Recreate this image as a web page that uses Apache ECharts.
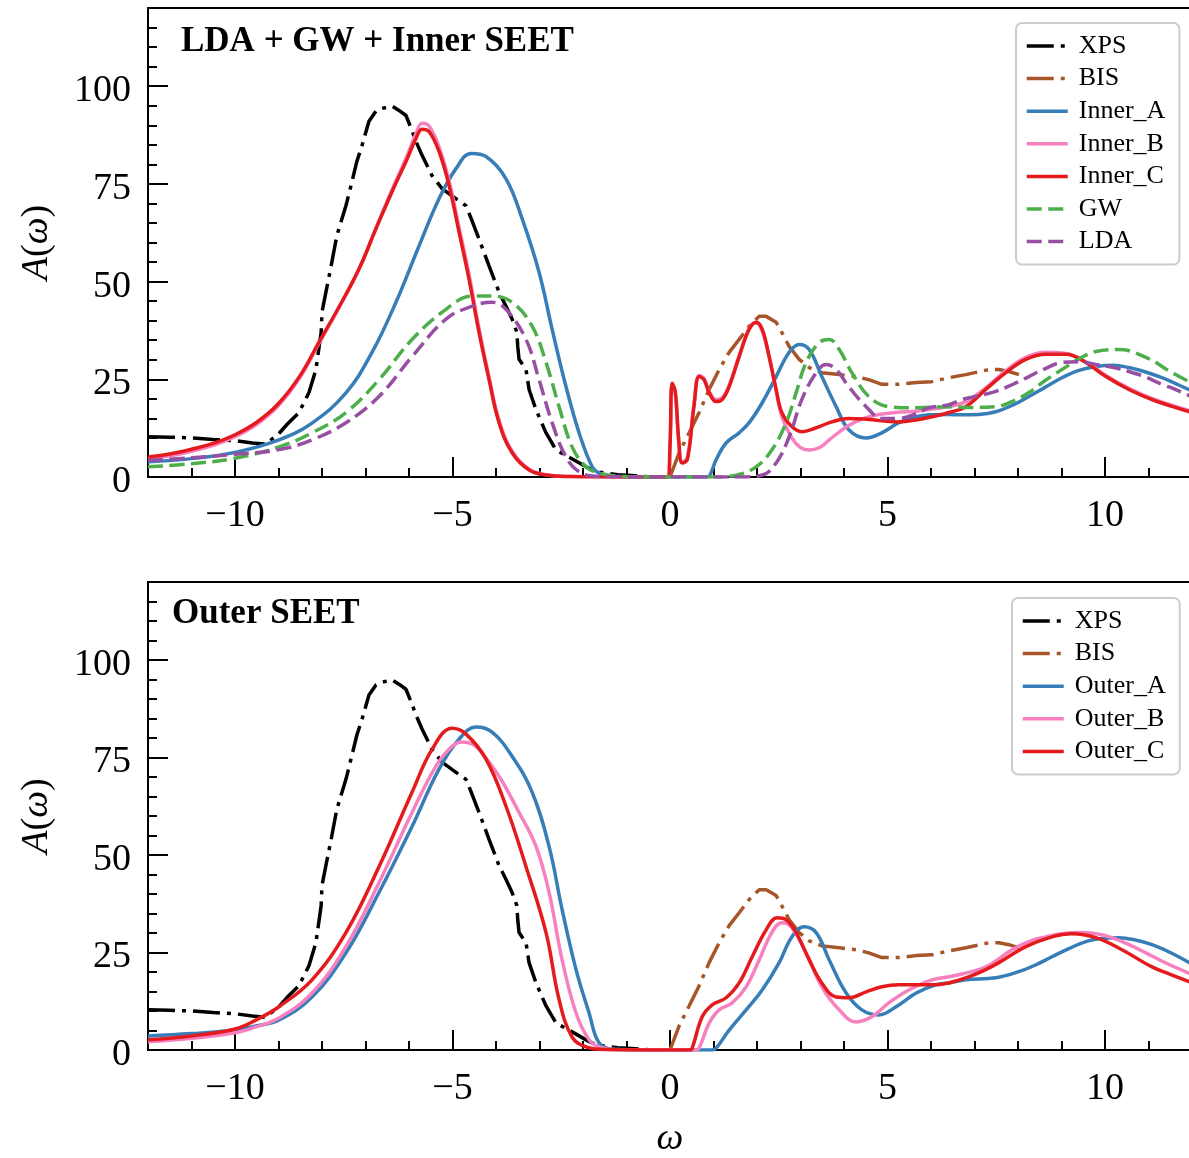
<!DOCTYPE html>
<html><head><meta charset="utf-8">
<script src="https://cdn.jsdelivr.net/npm/echarts@6/dist/echarts.min.js"></script>
<style>html,body{margin:0;padding:0;background:#fff}#c{width:1189px;height:1158px}</style>
</head><body><div id="c"></div>
<script>
// ---------- data ----------
const xTickLabels = [-10, -5, 0, 5, 10];
const yTickLabels = [0, 25, 50, 75, 100];

const xpsX = [-12,-11.5,-11,-10.5,-10,-9.6,-9.3,-9.0,-8.8,-8.53,-8.30,-8.14,-8.02,-8.0,-7.91,-7.79,-7.66,-7.45,-7.31,-7.2,-7.08,-6.92,-6.76,-6.62,-6.39,-6.23,-6.07,-5.95,-5.84,-5.70,-5.47,-5.24,-4.92,-4.69,-4.57,-4.39,-4.16,-3.93,-3.77,-3.63,-3.52,-3.50,-3.47,-3.31,-3.24,-3.08,-2.85,-2.62,-2.32,-1.93,-1.70,-1.2,-0.8,-0.4];
const xpsY = [10.3,10.2,10.0,9.6,9.3,8.7,8.4,11.0,13.5,16.5,21.6,27.5,37.0,42.2,47.3,54.0,61.7,69.4,75.6,80.7,84.8,91.0,93.6,94.3,94.9,93.8,92.5,89.2,85.9,82.3,77.1,73.8,71.2,69.4,66.1,60.9,54.0,47.3,43.7,40.4,37.0,33.4,30.1,27.5,22.4,17.2,11.3,6.9,5.1,2.6,1.3,0.6,0.3,0];

const bisX = [0,0.21,0.44,0.67,0.90,1.13,1.36,1.59,1.82,2.05,2.21,2.44,2.57,2.74,2.97,3.20,3.49,3.89,4.28,4.57,4.87,5.26,5.66,6.02,6.41,6.80,7.33,7.56,7.79,8.02];
const bisY = [0,6.2,11.3,16.5,22.4,27.5,31.9,35.2,38.6,41.1,41.1,39.6,37.0,33.4,30.1,28.0,26.7,26.2,25.7,24.9,23.7,23.7,24.2,24.4,25.4,26.2,27.5,27.5,27.0,26.2];

const innerAX = [-12,-11,-10,-8.99,-8.23,-7.45,-6.85,-6.3,-5.77,-5.31,-4.92,-4.57,-4.23,-3.77,-3.40,-3.01,-2.71,-2.39,-2.09,-1.79,-1.63,-1.3,-0.5,0.85,0.92,1.06,1.29,1.59,1.82,2.12,2.44,2.74,2.97,3.2,3.49,3.82,4.11,4.51,4.87,5.26,5.66,5.95,6.41,6.71,7.1,7.49,7.9,8.25,8.6,9.01,9.4,9.79,10.2,10.55,10.95,11.31,11.6,12];
const innerAY = [3.9,4.7,6.3,9.5,13.8,21.5,31.9,44.7,59.1,71.2,78.9,82.8,82.0,76.3,66.1,52.4,37.8,23.1,11.3,2.6,1.0,0.2,0,0,0.5,4.4,8.7,11.3,13.9,19.0,25.7,31.9,33.9,32.6,25.7,18.0,12.1,10.0,11.3,13.9,15.4,15.9,16.0,15.9,16.0,16.7,18.5,20.6,22.8,25.4,27.3,28.3,28.6,28.0,26.8,25.4,24.0,22.0];

const innerBX = [-12,-11.5,-11,-10.5,-10,-9.5,-9,-8.5,-8.07,-7.61,-7.15,-6.76,-6.39,-6.07,-5.84,-5.70,-5.54,-5.31,-5.08,-4.85,-4.62,-4.39,-4.16,-3.93,-3.63,-3.24,-2.85,-2.3,-1,-0.06,0.0,0.05,0.12,0.2,0.28,0.4,0.55,0.67,0.78,0.9,1.06,1.2,1.36,1.59,1.82,1.98,2.12,2.28,2.44,2.57,2.8,3.0,3.2,3.45,3.66,4.05,4.41,4.8,5.26,5.66,6.02,6.41,6.8,7.26,7.72,8.18,8.64,9.1,9.56,10.02,10.55,11.08,11.5,12];
const innerBY = [4.6,5.4,6.6,8.1,10.3,13.5,18.3,25.6,34.2,43.3,53.2,63.7,73.5,81.5,87.8,90.5,89.8,84.5,75.8,63.9,51.8,38.0,25.6,14.5,6.6,2.0,0.6,0.1,0,0,8,23.5,21.5,9.5,3.8,5.0,18.5,26.0,25.2,22.0,19.8,20.3,23.5,31.0,38.0,39.4,37.3,30.5,22.0,15.5,10.0,7.5,6.9,7.6,9.5,12.8,14.8,16.0,16.6,16.8,17.4,18.0,19.3,22.8,27.2,30.6,31.9,31.6,29.5,26.0,22.7,20.1,18.5,16.8];

const innerCX = [-12,-11.5,-11,-10.5,-10,-9.5,-9,-8.5,-8.07,-7.61,-7.15,-6.76,-6.39,-6.07,-5.84,-5.70,-5.54,-5.31,-5.08,-4.85,-4.62,-4.39,-4.16,-3.93,-3.63,-3.24,-2.85,-2.3,-1,-0.06,0.0,0.05,0.12,0.2,0.28,0.4,0.55,0.67,0.78,0.90,1.06,1.20,1.36,1.59,1.82,1.98,2.12,2.28,2.44,2.57,2.80,3.03,3.36,3.72,4.11,4.51,4.87,5.26,5.66,6.02,6.41,6.80,7.26,7.72,8.18,8.64,9.10,9.56,10.02,10.55,11.08,11.5,12];
const innerCY = [5.1,5.9,7.1,8.6,10.8,14.0,18.8,26.0,34.5,43.5,53.2,63.5,73.0,80.7,86.6,89.0,88.4,83.3,74.6,62.7,50.6,37.0,24.9,13.9,6.2,1.8,0.5,0.1,0,0,8,24.0,22.0,9.5,3.6,4.5,18.0,25.7,24.9,21.6,19.3,19.8,23.1,30.8,37.8,39.6,37.8,30.8,22.4,16.5,12.9,11.6,12.6,14.1,15.0,14.8,14.4,14.1,14.6,15.4,16.5,18.0,22.4,26.7,30.1,31.4,31.4,29.3,25.7,22.4,19.8,18.2,16.5];

const gwX = [-12,-11,-10,-8.99,-8.23,-7.45,-6.69,-5.93,-5.15,-4.55,-4.09,-3.63,-3.17,-2.85,-2.55,-2.25,-1.93,-1.63,-1.2,-0.5,1.0,1.5,1.98,2.34,2.67,2.9,3.13,3.43,3.66,3.89,4.18,4.57,5.03,5.66,6.41,6.8,7.49,7.9,8.25,8.6,9.01,9.4,9.79,10.32,10.94,11.54,12];
const gwY = [2.6,3.4,4.8,7.7,11.3,16.5,24.9,35.2,42.9,46.3,46.3,44.7,38.6,29.3,18.0,7.7,2.6,1.0,0.2,0,0,0.4,2.6,6.9,13.9,21.6,29.3,34.4,35.2,32.6,26.7,20.6,18.0,17.7,18.0,17.8,18.0,19.5,21.6,24.5,27.5,30.2,32.1,32.6,30.6,26.7,24.0];

const ldaX = [-12,-11,-10,-8.99,-8.23,-7.45,-6.69,-5.93,-5.15,-4.55,-4.09,-3.77,-3.31,-3.01,-2.71,-2.39,-2.09,-1.7,-0.5,1.6,2.12,2.44,2.74,3.03,3.36,3.59,3.82,4.11,4.51,4.87,5.26,5.66,5.95,6.41,6.71,7.1,7.49,7.9,8.25,8.6,9.01,9.4,9.79,10.2,10.55,10.95,11.31,11.6,12];
const ldaY = [4.3,4.9,5.8,7.0,9.5,13.9,20.6,30.8,40.4,43.7,44.7,42.9,35.2,24.9,13.9,5.1,1.3,0.2,0,0,0.5,3.6,10.3,19.8,26.7,28.8,27.5,23.1,18.0,15.0,15.0,16.2,17.7,18.5,19.8,20.8,21.9,23.8,25.7,27.6,29.3,29.5,28.8,28.0,27.0,25.5,23.7,22.5,20.5];

const outerAX = [-12,-11,-10,-9.5,-8.99,-8.23,-7.45,-6.69,-5.93,-5.31,-4.85,-4.46,-4.09,-3.63,-3.17,-2.78,-2.48,-2.16,-1.86,-1.63,-1.3,-0.5,0.95,1.06,1.36,1.75,2.12,2.51,2.8,3.08,3.36,3.66,4.05,4.41,4.8,5.2,5.66,6.11,6.41,6.8,7.49,8.02,8.4,8.78,9.17,9.56,9.95,10.32,10.7,11.08,11.5,12];
const outerAY = [3.6,4.2,5.1,6.2,7.7,13.6,24.9,40.4,57.3,72.0,79.7,82.8,81.5,75.3,66.1,52.2,36.0,20.6,9.5,1.8,0.2,0,0,0.5,5.1,10.3,15.4,22.4,29.0,31.6,30.1,23.1,14.6,10.3,9.0,11.1,14.6,16.7,17.2,18.0,18.5,20.1,21.8,23.9,26.0,27.8,28.6,28.8,28.2,27.0,25.0,22.0];

const outerBX = [-12,-11,-10,-9.5,-8.99,-8.23,-7.45,-6.69,-5.93,-5.38,-5.01,-4.78,-4.55,-4.39,-3.93,-3.47,-3.08,-2.78,-2.48,-2.16,-1.86,-1.63,-1.3,-0.5,0.6,0.67,0.9,1.13,1.43,1.75,2.05,2.34,2.57,2.8,3.13,3.49,3.89,4.28,4.64,5.03,5.49,6.02,6.41,6.71,7.26,7.86,8.25,8.64,9.0,9.40,9.8,10.16,10.55,10.94,11.4,11.91,12];
const outerBY = [2.1,3.0,4.4,6.0,8.2,14.6,26.5,42.9,60.9,72.8,77.9,79.0,78.5,77.1,70.2,60.9,52.2,40.4,23.1,9.5,2.6,0.8,0.1,0,0,0.5,6.9,10.3,12.1,16.2,23.1,30.1,32.6,31.4,24.9,16.2,10.3,7.2,8.5,12.1,15.4,18.0,18.8,19.5,21.3,25.7,27.8,29.0,29.8,30.1,29.8,28.8,27.0,24.9,22.3,19.8,19.5];

const outerCX = [-12,-11,-10,-9.5,-8.99,-8.23,-7.45,-6.69,-5.93,-5.47,-5.01,-4.69,-4.23,-3.77,-3.31,-2.85,-2.55,-2.25,-1.93,-1.5,-0.5,0.45,0.51,0.74,0.97,1.29,1.59,1.89,2.21,2.46,2.67,2.9,3.2,3.49,3.82,4.11,4.51,4.87,5.26,6.02,6.41,6.8,7.2,7.56,8.18,8.78,9.24,9.79,10.39,11.08,11.5,12];
const outerCY = [2.6,3.6,5.4,7.8,11.1,18.0,30.1,47.0,66.1,77.1,82.5,81.0,74.6,62.5,47.0,30.1,12.9,3.3,0.8,0.1,0,0,0.5,8.5,11.6,13.4,17.2,23.9,30.8,33.9,33.4,30.1,23.1,17.2,13.6,13.4,14.9,16.2,16.7,16.7,17.2,18.5,20.3,22.4,26.5,29.0,29.8,28.8,25.7,21.3,19.4,17.2];

// ---------- chart ----------
const FONT = '"Liberation Serif", "DejaVu Serif", serif';
const pair = (xs, ys) => xs.map((x, i) => [x, ys[i]]);
const fmt = v => (v < 0 ? '\u2212' + Math.abs(v) : String(v));

const C = {xps:'#000000', bis:'#a65628', a:'#377eb8', b:'#f781bf', c:'#e41a1c', gw:'#4daf4a', lda:'#984ea3'};
const LW = 3.5;
const DASHDOT = [27, 7, 4, 7];
const DASH = [15, 6.5];

function xAxes(gi, withName) {
  const main = {
    gridIndex: gi, type: 'value', position: 'bottom', min: -12, max: 12, interval: 1,
    axisLine: {onZero: false, lineStyle: {color: '#000', width: 2}},
    axisTick: {inside: true, length: 9, lineStyle: {color: '#000', width: 2}},
    axisLabel: {customValues: xTickLabels, formatter: fmt, margin: 20, fontSize: 38, color: '#000', fontFamily: FONT},
    splitLine: {show: false}
  };
  if (withName) {
    main.name = 'ω'; main.nameLocation = 'middle'; main.nameGap = 70;
    main.nameTextStyle = {fontSize: 38, fontStyle: 'italic', fontFamily: FONT, color: '#000'};
  }
  const major = {
    gridIndex: gi, type: 'value', position: 'bottom', min: -12, max: 12, interval: 1,
    axisLine: {show: false, onZero: false},
    axisTick: {inside: true, length: 20, customValues: xTickLabels, lineStyle: {color: '#000', width: 2}},
    axisLabel: {show: false}, splitLine: {show: false}
  };
  return [main, major];
}
function yAxes(gi) {
  const main = {
    gridIndex: gi, type: 'value', position: 'left', min: 0, max: 120, interval: 5,
    axisLine: {onZero: false, lineStyle: {color: '#000', width: 2}},
    axisTick: {inside: true, length: 9, lineStyle: {color: '#000', width: 2}},
    axisLabel: {
      customValues: yTickLabels, margin: 17, color: '#000',
      formatter: v => '{n|' + v + '}',
      rich: {n: {fontSize: 38, fontFamily: FONT, color: '#000', padding: [10, 0, 0, 0]}}
    },
    splitLine: {show: false},
    name: '{i|A}({i|ω})', nameLocation: 'middle', nameGap: 92, nameRotate: 90,
    nameTextStyle: {fontSize: 38, fontFamily: FONT, color: '#000', rich: {i: {fontStyle: 'italic', fontSize: 38, fontFamily: FONT, color: '#000'}}}
  };
  const major = {
    gridIndex: gi, type: 'value', position: 'left', min: 0, max: 120, interval: 5,
    axisLine: {show: false, onZero: false},
    axisTick: {inside: true, length: 20, customValues: yTickLabels, lineStyle: {color: '#000', width: 2}},
    axisLabel: {show: false}, splitLine: {show: false}
  };
  return [main, major];
}
function line(name, xs, ys, color, type, gi, smooth) {
  return {
    type: 'line', name, xAxisIndex: gi * 2, yAxisIndex: gi * 2, data: pair(xs, ys),
    symbol: 'none', showSymbol: false, smooth: smooth, animation: false,
    lineStyle: {color, width: LW, type}, itemStyle: {color}
  };
}
function legend(left, top, names) {
  return {
    orient: 'vertical', left, top, data: names,
    backgroundColor: '#fff', borderColor: '#cccccc', borderWidth: 2, borderRadius: 6,
    padding: [10, 14, 10, 9], itemWidth: 41, itemHeight: 14, itemGap: 6.6,
    selectedMode: false,
    itemStyle: {opacity: 0, color: 'transparent', borderWidth: 0},
    lineStyle: {width: LW},
    textStyle: {fontFamily: FONT, fontSize: 26, color: '#000', lineHeight: 24, padding: [0, 0, 0, 6]}
  };
}

const option = {
  animation: false,
  backgroundColor: '#fff',
  title: [
    {text: 'LDA + GW + Inner SEET', left: 181, top: 24, padding: 0, textStyle: {fontFamily: FONT, fontWeight: 'bold', fontSize: 35, color: '#000'}},
    {text: 'Outer SEET', left: 172, top: 596, padding: 0, textStyle: {fontFamily: FONT, fontWeight: 'bold', fontSize: 35, color: '#000'}}
  ],
  grid: [
    {left: 148, top: 8, width: 1044, height: 469, show: true, borderColor: '#000', borderWidth: 2, backgroundColor: 'transparent', containLabel: false, outerBoundsMode: 'none'},
    {left: 148, top: 582, width: 1044, height: 468, show: true, borderColor: '#000', borderWidth: 2, backgroundColor: 'transparent', containLabel: false, outerBoundsMode: 'none'}
  ],
  xAxis: [...xAxes(0, false), ...xAxes(1, true)],
  yAxis: [...yAxes(0), ...yAxes(1)],
  legend: [
    legend(1016, 23, ['XPS', 'BIS', 'Inner_A', 'Inner_B', 'Inner_C', 'GW', 'LDA']),
    legend(1012, 598, ['XPS', 'BIS', 'Outer_A', 'Outer_B', 'Outer_C'])
  ],
  series: [
    line('XPS', xpsX, xpsY, C.xps, DASHDOT, 0, false),
    line('BIS', bisX, bisY, C.bis, DASHDOT, 0, false),
    line('Inner_A', innerAX, innerAY, C.a, 'solid', 0, 0.4),
    line('Inner_B', innerBX, innerBY, C.b, 'solid', 0, 0.4),
    line('Inner_C', innerCX, innerCY, C.c, 'solid', 0, 0.4),
    line('GW', gwX, gwY, C.gw, DASH, 0, 0.4),
    line('LDA', ldaX, ldaY, C.lda, DASH, 0, 0.4),
    line('XPS', xpsX, xpsY, C.xps, DASHDOT, 1, false),
    line('BIS', bisX, bisY, C.bis, DASHDOT, 1, false),
    line('Outer_A', outerAX, outerAY, C.a, 'solid', 1, 0.4),
    line('Outer_B', outerBX, outerBY, C.b, 'solid', 1, 0.4),
    line('Outer_C', outerCX, outerCY, C.c, 'solid', 1, 0.4)
  ]
};
const chart = echarts.init(document.getElementById('c'), null, {renderer: 'canvas'});
chart.setOption(option);
</script>
</body></html>
